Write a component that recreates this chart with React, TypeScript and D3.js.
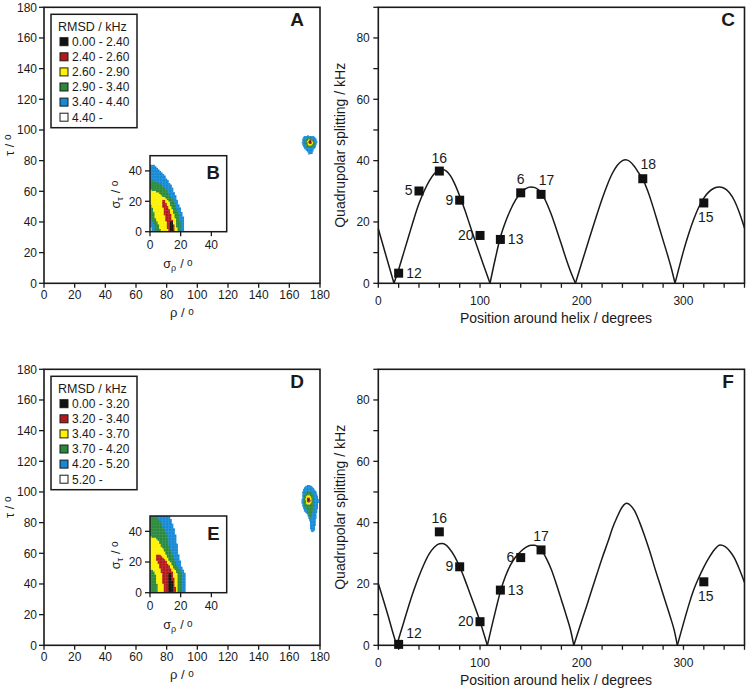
import React from "react";
import * as d3 from "d3";

const FONT = "'Liberation Sans', Arial, Helvetica, sans-serif";
const INK = "#1a1a1a";

// RMSD classes, best fit first
const rmsdColors = ["#111111", "#b3191c", "#fff200", "#2a8a3c", "#1589d6", "#ffffff"];
const rmsdRangesA = ["0.00 - 2.40", "2.40 - 2.60", "2.60 - 2.90", "2.90 - 3.40", "3.40 - 4.40", "4.40 -"];
const rmsdRangesD = ["0.00 - 3.20", "3.20 - 3.40", "3.40 - 3.70", "3.70 - 4.20", "4.20 - 5.20", "5.20 -"];

// RMSD regions, [rho, tau] in degrees
const blobABlack = [[173, 92.8], [173.8, 92.8], [173.8, 91.8], [173, 91.8]];
const blobARed = [[172.6, 92.6], [173.4, 93.4], [174.6, 93.2], [174.8, 91.5], [173.8, 90.8], [172.8, 91.2]];
const blobAYellow = [[171.7, 92.8], [172.8, 93.8], [174.8, 93.6], [175.6, 92], [175, 90.3], [173, 89.9], [171.9, 90.8]];
const blobAGreen = [[170.2, 93.5], [171.5, 94.8], [174, 95], [176, 94], [176.7, 91.5], [176, 89.3], [174, 88.4], [171.5, 88.8], [170.2, 91]];
const blobABlue = [[168.5, 94], [169.5, 95.8], [172, 96.3], [175.5, 96], [177.5, 94.5], [178, 92], [177, 89], [175.5, 87], [175, 84.5], [172.5, 84.2], [171.5, 86.5], [169.5, 88.5], [168.2, 91.5]];

const blobDBlack = [[172.2, 95.6], [173.1, 95.6], [173.1, 94.3], [172.2, 94.3]];
const blobDRed = [[171.3, 95.5], [172, 96.7], [173.5, 96.5], [173.9, 94.5], [173.2, 93.2], [171.8, 93.3]];
const blobDYellow = [[170.7, 96], [171.5, 98.2], [173.5, 98.2], [174.6, 96], [174.3, 93], [173.2, 91.7], [171.5, 92], [170.8, 93.8]];
const blobDGreen = [[169.6, 97], [171, 100.4], [173.5, 100.6], [175.6, 98.5], [176.1, 95], [175.8, 91], [175, 86], [174, 83], [172.8, 84], [172, 88], [170, 90.5], [169.5, 93.5]];
const blobDBlue = [[168.5, 100], [170, 103.5], [172.5, 104.6], [175, 103.5], [177.5, 100], [178.9, 95], [178.5, 90], [177.5, 85], [177, 80], [176.5, 75.5], [175, 73.5], [173.8, 75], [173.5, 80], [172, 85], [169.5, 88], [168.1, 93]];

// inset maps, [sigma_rho, sigma_tau] in degrees
const insetBBlack = [[13.5, 7.5], [15, 7.5], [15.6, 0], [13.5, 0]];
const insetBRed = [[8.3, 21], [9.6, 21.2], [11.5, 17], [13, 13.5], [14.1, 9.8], [15.5, 5], [16.5, 1], [16.5, 0], [11.7, 0], [11.2, 4], [9.8, 9.8], [9, 13], [8.3, 17]];
const insetBYellow = [[0, 27.8], [5, 26], [9, 23], [12.2, 20.7], [14.5, 15], [16.3, 9.8], [17.3, 4.5], [17.8, 0], [7.4, 0], [5.5, 5], [3.3, 9.8], [2, 14.5], [0, 19.5]];
const insetBGreen = [[0, 34], [4, 33], [7.4, 31.6], [11, 27], [13.5, 23.5], [15.4, 20.7], [17.5, 15], [19.1, 9.8], [20, 4], [20, 0], [3.6, 0], [3, 4], [1.5, 7.5], [0, 9.2]];
const insetBBlue = [[0, 44], [3, 44], [6.7, 40.2], [10, 36], [13, 31.6], [15.5, 26.5], [17.6, 20.7], [19.8, 15], [21.7, 9.8], [22.4, 4], [22.5, 0], [1, 0], [0.8, 2.5], [0, 4]];

const insetEBlack = [[12, 12.6], [13.5, 12.6], [15, 5], [15.2, 0], [11.8, 0], [11.8, 6]];
const insetERed = [[4.5, 24.5], [7, 25], [8.7, 22.4], [11, 20], [13, 17.4], [15, 12.6], [16.3, 6], [17, 0], [9.1, 0], [9.1, 2.4], [7.6, 12.6], [6, 17.5], [4.3, 21]];
const insetEYellow = [[0, 37], [4, 35.5], [6.5, 32.2], [10, 26], [12, 22.4], [15, 17], [17.8, 12.6], [18.5, 2.4], [18.5, 0], [5, 0], [5, 2.4], [4.2, 8], [3.3, 12.6], [2, 14.5], [0, 15.5]];
const insetEGreen = [[0, 50], [4.3, 50], [7.5, 45], [10.9, 38.7], [12, 32.2], [15.2, 22.4], [18, 17], [20.7, 12.6], [20.7, 2.4], [20.7, 0], [1.5, 0], [1.3, 1.8], [0, 2.6]];
const insetEBlue = [[0, 50], [13, 50], [15, 44], [16.3, 38.7], [17.4, 32.2], [19, 22.4], [20.5, 17], [22.8, 12.6], [23.5, 2.4], [23.5, 0], [0, 0]];

// fitted splitting curves, one list per arch between zero crossings: [position, kHz]
const arcC0 = [[0, 17.8], [5, 12], [10, 6.2], [15.4, 0]];
const arcC1 = [[15.4, 0], [20, 4.5], [25, 10], [30, 15.5], [35, 21], [40, 26], [45, 30], [50, 33.3], [55, 35.7], [60, 36.9], [63, 37.1], [67, 36.6], [71, 35], [75, 32.5], [80, 28.5], [85, 24], [90, 19], [95, 14], [100, 9.2], [105, 4.5], [109.8, 0]];
const arcC2 = [[109.8, 0], [115, 8], [120, 15], [125, 20], [130, 24], [135, 27.2], [140, 29.5], [145, 30.9], [150, 31.4], [154, 31.2], [158, 30.3], [162, 28.5], [166, 25.8], [170, 22.5], [175, 17.7], [180, 12.7], [185, 7.6], [190, 3], [193.8, 0]];
const arcC3 = [[193.8, 0], [200, 6.7], [205, 12], [210, 17.3], [215, 22.5], [220, 27.5], [225, 32], [230, 35.8], [235, 38.5], [240, 40], [243, 40.3], [247, 39.8], [252, 38], [256, 36], [260, 34], [265, 30], [270, 25], [275, 19.5], [280, 14], [285, 8.5], [288, 5], [291.7, 0]];
const arcC4 = [[291.7, 0], [296, 5.5], [300, 10.5], [305, 16], [310, 20.8], [315, 24.8], [320, 27.8], [325, 29.8], [330, 31], [335, 31.4], [340, 31], [345, 29.6], [350, 27], [355, 23], [360, 18]];

const arcF0 = [[0, 20.2], [5, 14.8], [10, 9.2], [14, 4.5], [18.1, 0]];
const arcF1 = [[18.1, 0], [25, 7.5], [30, 13], [35, 18], [40, 22.5], [45, 26.5], [50, 29.8], [55, 32], [60, 33.1], [63, 33.2], [66, 32.8], [70, 31.5], [75, 29], [80, 25.6], [85, 21.5], [90, 17], [95, 12.5], [100, 7.8], [104, 3.5], [107.2, 0]];
const arcF2 = [[107.2, 0], [112, 6.8], [116, 12.3], [120, 17.5], [125, 22.5], [130, 26.2], [135, 28.8], [140, 30.6], [145, 31.9], [150, 32.6], [154, 32.6], [158, 31.8], [162, 30.2], [166, 27.8], [170, 24.8], [175, 20], [180, 14.8], [185, 9.5], [189, 5], [192.2, 0]];
const arcF3 = [[192.2, 0], [198, 6], [205, 13], [210, 18.2], [215, 23.3], [220, 28.4], [226, 34], [230, 38], [235, 42], [240, 45.2], [244, 46.3], [248, 45.6], [252, 43.8], [257, 40], [262, 35.5], [267, 30.5], [272, 25], [277, 19.8], [282, 14.5], [287, 9.3], [291, 4.8], [294, 0]];
const arcF4 = [[294, 0], [298, 4.8], [302, 9.5], [306, 14], [310, 18], [315, 22], [320, 25.5], [325, 28.5], [330, 31], [336, 32.7], [341, 32.2], [346, 30.5], [350, 28.5], [355, 24.8], [360, 20.5]];

// measured splittings
const residuesC = [12, 5, 16, 9, 20, 13, 6, 17, 18, 15];
const positionsC = [20, 40, 60, 80, 100, 120, 140, 160, 260, 320];
const splittingC = [3.3, 30.1, 36.6, 27.1, 15.6, 14.3, 29.5, 29.0, 34.1, 26.2];
const residuesF = [12, 16, 9, 20, 13, 6, 17, 15];
const positionsF = [20, 60, 80, 100, 120, 140, 160, 320];
const splittingF = [0.3, 37.0, 25.6, 7.7, 18.0, 28.6, 31.1, 20.7];

// ticks
const mapTicks = [0, 20, 40, 60, 80, 100, 120, 140, 160, 180];
const insetTicks = [0, 20, 40];
const helixTicks = [0, 20, 40, 60, 80, 100, 120, 140, 160, 180, 200, 220, 240, 260, 280, 300, 320, 340, 360];
const helixLabels = [0, 100, 200, 300];
const splitTicks = [0, 10, 20, 30, 40, 50, 60, 70, 80, 90];
const splitLabels = [0, 20, 40, 60, 80];

// where each residue label sits relative to its square
const labelPos: Record<string, [number, number, string]> = {
  r: [7.5, 4.5, "start"],
  l: [-6.5, 4.5, "end"],
  t: [0, -8.5, "middle"],
  tr: [5.5, -9.3, "middle"],
  rt: [7.5, -6, "start"],
  b: [2, 19.5, "middle"],
};
const sidesC: Record<number, string> = { 12: "r", 5: "l", 16: "t", 9: "l", 20: "l", 13: "r", 6: "t", 17: "tr", 18: "tr", 15: "b" };
const sidesF: Record<number, string> = { 12: "rt", 16: "t", 9: "l", 20: "l", 13: "r", 6: "l", 17: "t", 15: "b" };

function rasterize(bands: number[][][], step: number) {
  const outer = bands[bands.length - 1];
  const [xa, xb] = d3.extent(outer, (p) => p[0]) as [number, number];
  const [ya, yb] = d3.extent(outer, (p) => p[1]) as [number, number];
  const cells: { x: number; y: number; k: number }[] = [];
  for (let gx = Math.floor(xa / step) * step; gx < xb; gx += step) {
    for (let gy = Math.floor(ya / step) * step; gy < yb; gy += step) {
      const c: [number, number] = [gx + step / 2, gy + step / 2];
      const k = bands.findIndex((b) => d3.polygonContains(b as [number, number][], c));
      if (k >= 0) cells.push({ x: gx, y: gy, k });
    }
  }
  return cells;
}

const Cells = ({ cells, x, y, step }: any) => (
  <g>
    {cells.map((c: any, i: number) => (
      <rect
        key={i}
        x={x(c.x)}
        y={y(c.y + step)}
        width={x(c.x + step) - x(c.x) + 0.3}
        height={y(c.y) - y(c.y + step) + 0.3}
        fill={rmsdColors[c.k]}
      />
    ))}
  </g>
);

const Deg = () => (
  <tspan fontSize={10} dy={-2.5}>o</tspan>
);

const MapPanel = ({ dy, ranges, blob, inset, letter, insetLetter, insetY }: any) => {
  const x = d3.scaleLinear().domain([0, 180]).range([44, 320]);
  const y = d3.scaleLinear().domain([0, 180]).range([283.3 + dy, 7.3 + dy]);
  const ix = d3.scaleLinear().domain([0, 50]).range([150, 226.7]);
  const iy = d3.scaleLinear().domain([0, 50]).range(insetY);
  const blobCells = rasterize(blob, 0.5);
  const insetCells = rasterize(inset, 1);
  const lt = 14.3 + dy;

  return (
    <g>
      <Cells cells={blobCells} x={x} y={y} step={0.5} />
      <rect x={x(0)} y={y(180)} width={x(180) - x(0)} height={y(0) - y(180)} fill="none" stroke={INK} strokeWidth={1.6} />
      {mapTicks.map((t) => (
        <g key={"x" + t}>
          <line x1={x(t)} x2={x(t)} y1={y(0)} y2={y(0) + 4.5} stroke={INK} strokeWidth={1.3} />
          <text x={x(t)} y={y(0) + 16} textAnchor="middle" fontSize={12} fill={INK}>{t}</text>
          <line x1={x(0)} x2={x(0) - 5} y1={y(t)} y2={y(t)} stroke={INK} strokeWidth={1.3} />
          <text x={x(0) - 7} y={y(t) + 4.2} textAnchor="end" fontSize={12} fill={INK}>{t}</text>
        </g>
      ))}
      <text x={182} y={y(0) + 34} textAnchor="middle" fontSize={13} fill={INK}>
        ρ / <Deg />
      </text>
      <text transform={`translate(13.5, ${y(90)}) rotate(-90)`} textAnchor="middle" fontSize={13} fill={INK}>
        τ / <Deg />
      </text>
      <text x={297} y={26 + dy} textAnchor="middle" fontSize={19} fontWeight="bold" fill={INK}>{letter}</text>

      {/* legend */}
      <rect x={51} y={lt} width={86} height={113.4} fill="#fff" stroke={INK} strokeWidth={1.5} />
      <text x={58} y={lt + 16.4} fontSize={12.5} fill={INK}>RMSD / kHz</text>
      {ranges.map((r: string, i: number) => {
        const cy = lt + 27.4 + i * 15.1;
        return (
          <g key={r}>
            <rect x={60} y={cy - 4} width={8} height={8} fill={rmsdColors[i]} stroke={INK} strokeWidth={1} />
            <text x={72} y={cy + 4.3} fontSize={12} fill={INK}>{r}</text>
          </g>
        );
      })}

      {/* inset */}
      <rect x={ix(0)} y={iy(50)} width={ix(50) - ix(0)} height={iy(0) - iy(50)} fill="#fff" />
      <Cells cells={insetCells} x={ix} y={iy} step={1} />
      <rect x={ix(0)} y={iy(50)} width={ix(50) - ix(0)} height={iy(0) - iy(50)} fill="none" stroke={INK} strokeWidth={1.5} />
      {insetTicks.map((t) => (
        <g key={"i" + t}>
          <line x1={ix(t)} x2={ix(t)} y1={iy(0)} y2={iy(0) + 4.5} stroke={INK} strokeWidth={1.3} />
          <text x={ix(t)} y={iy(0) + 17} textAnchor="middle" fontSize={12} fill={INK}>{t}</text>
          <line x1={ix(0)} x2={ix(0) - 5} y1={iy(t)} y2={iy(t)} stroke={INK} strokeWidth={1.3} />
          <text x={ix(0) - 8} y={iy(t) + 4.2} textAnchor="end" fontSize={12} fill={INK}>{t}</text>
        </g>
      ))}
      <text x={178} y={iy(0) + 36.5} textAnchor="middle" fontSize={12.5} fill={INK}>
        σ<tspan fontSize={9} dy={3}>ρ</tspan>
        <tspan dy={-3} dx={4}>/ </tspan>
        <Deg />
      </text>
      <text transform={`translate(120, ${iy(25) + 1}) rotate(-90)`} textAnchor="middle" fontSize={12.5} fill={INK}>
        σ<tspan fontSize={9} dy={3}>τ</tspan>
        <tspan dy={-3} dx={4}>/ </tspan>
        <Deg />
      </text>
      <text x={213.3} y={iy(50) + 23.5} textAnchor="middle" fontSize={18.5} fontWeight="bold" fill={INK}>{insetLetter}</text>
    </g>
  );
};

const SplitPanel = ({ dy, arcs, residues, positions, values, sides, letter }: any) => {
  const x = d3.scaleLinear().domain([0, 360]).range([378.3, 744.5]);
  const y = d3.scaleLinear().domain([0, 90]).range([283.3 + dy, 7.3 + dy]);
  const line = d3
    .line<number[]>()
    .x((d) => x(d[0]))
    .y((d) => y(d[1]))
    .curve(d3.curveMonotoneX);

  return (
    <g>
      <rect x={x(0)} y={y(90)} width={x(360) - x(0)} height={y(0) - y(90)} fill="none" stroke={INK} strokeWidth={1.6} />
      {helixTicks.map((t) => (
        <line key={"x" + t} x1={x(t)} x2={x(t)} y1={y(0)} y2={y(0) + 4.5} stroke={INK} strokeWidth={1.3} />
      ))}
      {helixLabels.map((t) => (
        <text key={"xl" + t} x={x(t)} y={y(0) + 21.5} textAnchor="middle" fontSize={12} fill={INK}>{t}</text>
      ))}
      {splitTicks.map((t) => (
        <line key={"y" + t} x1={x(0)} x2={x(0) - 5} y1={y(t)} y2={y(t)} stroke={INK} strokeWidth={1.3} />
      ))}
      {splitLabels.map((t) => (
        <text key={"yl" + t} x={x(0) - 8.5} y={y(t) + 4.2} textAnchor="end" fontSize={12} fill={INK}>{t}</text>
      ))}
      <text x={556} y={y(0) + 40} textAnchor="middle" fontSize={14} fill={INK}>Position around helix / degrees</text>
      <text transform={`translate(345, ${y(45)}) rotate(-90)`} textAnchor="middle" fontSize={14} fill={INK}>
        Quadrupolar splitting / kHz
      </text>
      {arcs.map((a: number[][], i: number) => (
        <path key={i} d={line(a) || ""} fill="none" stroke={INK} strokeWidth={1.5} />
      ))}
      {residues.map((r: number, i: number) => {
        const px = x(positions[i]);
        const py = y(values[i]);
        const [ox, oy, anchor] = labelPos[sides[r]];
        return (
          <g key={r}>
            <rect x={px - 4.5} y={py - 4.5} width={9} height={9} fill="#111" />
            <text x={px + ox} y={py + oy} textAnchor={anchor as any} fontSize={14} fill={INK}>{r}</text>
          </g>
        );
      })}
      <text x={728} y={26 + dy} textAnchor="middle" fontSize={19} fontWeight="bold" fill={INK}>{letter}</text>
    </g>
  );
};

export default function App() {
  return (
    <svg
      width={746}
      height={689}
      style={{ position: "absolute", left: 0, top: 0, background: "#fff" }}
      fontFamily={FONT}
    >
      <MapPanel
        dy={0}
        ranges={rmsdRangesA}
        blob={[blobABlack, blobARed, blobAYellow, blobAGreen, blobABlue]}
        inset={[insetBBlack, insetBRed, insetBYellow, insetBGreen, insetBBlue]}
        letter="A"
        insetLetter="B"
        insetY={[231.7, 155.7]}
      />
      <SplitPanel
        dy={0}
        arcs={[arcC0, arcC1, arcC2, arcC3, arcC4]}
        residues={residuesC}
        positions={positionsC}
        values={splittingC}
        sides={sidesC}
        letter="C"
      />
      <MapPanel
        dy={362}
        ranges={rmsdRangesD}
        blob={[blobDBlack, blobDRed, blobDYellow, blobDGreen, blobDBlue]}
        inset={[insetEBlack, insetERed, insetEYellow, insetEGreen, insetEBlue]}
        letter="D"
        insetLetter="E"
        insetY={[592.7, 516]}
      />
      <SplitPanel
        dy={362}
        arcs={[arcF0, arcF1, arcF2, arcF3, arcF4]}
        residues={residuesF}
        positions={positionsF}
        values={splittingF}
        sides={sidesF}
        letter="F"
      />
    </svg>
  );
}
